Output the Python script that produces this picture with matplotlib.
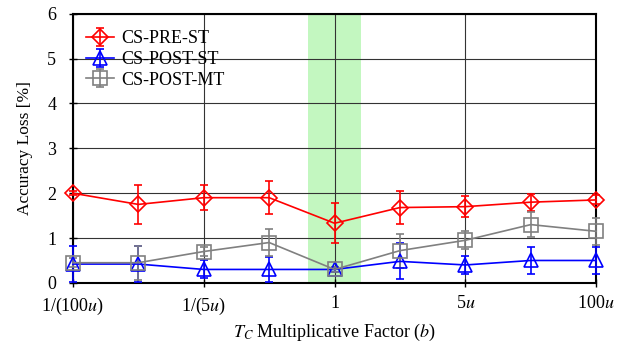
import numpy as np
import matplotlib
matplotlib.use('Agg')
import matplotlib.pyplot as plt

plt.rcParams['font.family'] = ['Liberation Serif', 'DejaVu Serif']
plt.rcParams['mathtext.fontset'] = 'stix'

# data
x = np.arange(9)
tick_pos = [0, 2, 4, 6, 8]
tick_labels = ['1/(100$u$)', '1/(5$u$)', '1', '5$u$', '100$u$']

pre_st = [2.0, 1.75, 1.9, 1.9, 1.33, 1.68, 1.7, 1.8, 1.85]
pre_st_err = [0.05, 0.43, 0.28, 0.37, 0.45, 0.36, 0.24, 0.19, 0.1]

post_st = [0.42, 0.42, 0.3, 0.3, 0.3, 0.48, 0.4, 0.5, 0.5]
post_st_err = [0.4, 0.4, 0.2, 0.28, 0.05, 0.4, 0.2, 0.3, 0.3]

post_mt = [0.45, 0.45, 0.7, 0.9, 0.3, 0.72, 0.95, 1.3, 1.15]
post_mt_err = [0.1, 0.38, 0.1, 0.3, 0.05, 0.38, 0.2, 0.28, 0.3]

fig = plt.figure(figsize=(6.23, 3.45), dpi=100)
ax = fig.add_axes([0.117, 0.18, 0.84, 0.78])

# highlighted region around b = 1
ax.axvspan(3.6, 4.4, color='#c3f7c0', zorder=0, lw=0)

ax.grid(True, color='0.2', lw=0.8, zorder=1)
ax.set_axisbelow(True)

series = [
    (pre_st, pre_st_err, 'red', 'D', 8, 'CS-PRE-ST'),
    (post_st, post_st_err, 'blue', '^', 10, 'CS-POST-ST'),
    (post_mt, post_mt_err, 'gray', 's', 10, 'CS-POST-MT'),
]
for y, err, c, m, ms, lab in series:
    ax.errorbar(x, y, yerr=err, color=c, marker=m, ms=ms, mfc='none',
                mec=c, mew=1.2, lw=1.2, capsize=3, capthick=1.2,
                elinewidth=1.2, label=lab, clip_on=False, zorder=3)

ax.set_xlim(0, 8)
ax.set_ylim(0, 6)
ax.set_xticks(tick_pos)
ax.set_xticklabels(tick_labels)
ax.set_yticks(range(7))
ax.tick_params(labelsize=13, direction='inout', length=6, width=1, pad=6)
ax.tick_params(axis='y', pad=9)
for s in ax.spines.values():
    s.set_linewidth(1.5)

ax.set_xlabel('$T_C$ Multiplicative Factor ($b$)', fontsize=13)
ax.set_ylabel('Accuracy Loss [%]', fontsize=12.5, labelpad=10)

ax.legend(loc='upper left', frameon=False, fontsize=13, handlelength=1.6,
          handletextpad=0.4, labelspacing=0.2, borderaxespad=0.3,
          bbox_to_anchor=(0.0, 0.985))

fig.savefig('out.png', dpi=100)
